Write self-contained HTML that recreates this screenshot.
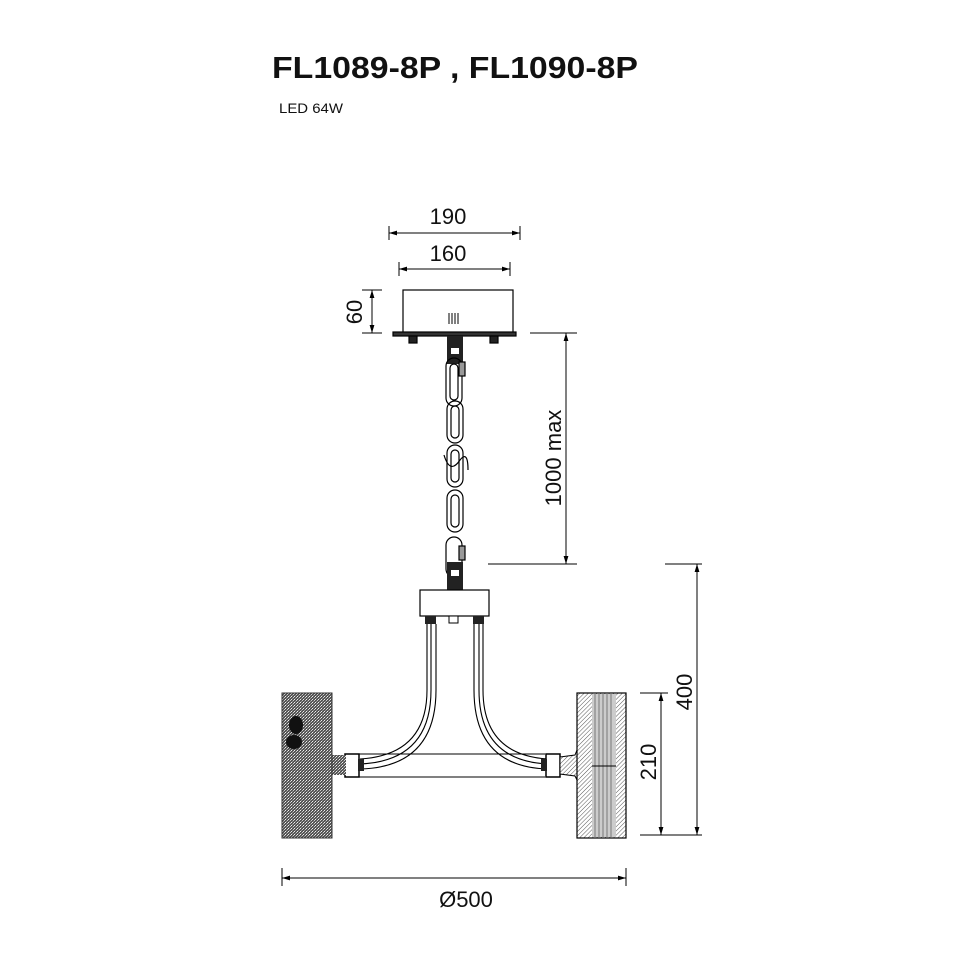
<!DOCTYPE html>
<html><head><style>
html,body{margin:0;padding:0;background:#fff;}
svg{display:block;}
text{font-family:"Liberation Sans",sans-serif;fill:#111;}
</style></head><body>
<svg width="970" height="970" viewBox="0 0 970 970" xmlns="http://www.w3.org/2000/svg">
<defs>
<marker id="a" viewBox="0 0 10 10" refX="10" refY="5" markerWidth="8" markerHeight="8" orient="auto-start-reverse"><path d="M0,2 L10,5 L0,8 z" fill="#000"/></marker>
<pattern id="mesh" width="3" height="3" patternUnits="userSpaceOnUse"><rect width="3" height="3" fill="#555"/><rect x="0" y="0" width="1" height="1" fill="#eee"/><rect x="2" y="1" width="1" height="1" fill="#ccc"/><rect x="1" y="2" width="1" height="1" fill="#999"/></pattern>
<pattern id="hatch" width="3" height="3" patternUnits="userSpaceOnUse" patternTransform="rotate(45)"><rect width="3" height="3" fill="#fff"/><line x1="0" y1="0" x2="0" y2="3" stroke="#555" stroke-width="1"/></pattern>
</defs>
<text x="272" y="78" font-size="31" font-weight="bold" textLength="366" lengthAdjust="spacingAndGlyphs">FL1089-8P , FL1090-8P</text>
<text x="279" y="113" font-size="14" textLength="64" lengthAdjust="spacingAndGlyphs">LED 64W</text>

<g stroke="#000" stroke-width="1" fill="none">
<line x1="389" y1="226" x2="389" y2="240"/><line x1="520" y1="226" x2="520" y2="240"/>
<line x1="389" y1="233" x2="520" y2="233" marker-start="url(#a)" marker-end="url(#a)"/>
<line x1="399" y1="262" x2="399" y2="276"/><line x1="510" y1="262" x2="510" y2="276"/>
<line x1="399" y1="269" x2="510" y2="269" marker-start="url(#a)" marker-end="url(#a)"/>
<line x1="362" y1="290" x2="382" y2="290"/><line x1="362" y1="333" x2="382" y2="333"/>
<line x1="372" y1="290" x2="372" y2="333" marker-start="url(#a)" marker-end="url(#a)"/>
<line x1="530" y1="333" x2="577" y2="333"/><line x1="488" y1="564" x2="577" y2="564"/>
<line x1="566" y1="333" x2="566" y2="564" marker-start="url(#a)" marker-end="url(#a)"/>
<line x1="665" y1="564" x2="702" y2="564"/>
<line x1="697" y1="564" x2="697" y2="835" marker-start="url(#a)" marker-end="url(#a)"/>
<line x1="640" y1="693" x2="668" y2="693"/><line x1="640" y1="835" x2="702" y2="835"/>
<line x1="661" y1="693" x2="661" y2="835" marker-start="url(#a)" marker-end="url(#a)"/>
<line x1="282" y1="868" x2="282" y2="886"/><line x1="626" y1="868" x2="626" y2="886"/>
<line x1="282" y1="878" x2="626" y2="878" marker-start="url(#a)" marker-end="url(#a)"/>
</g>
<text x="448" y="224" font-size="22" text-anchor="middle">190</text>
<text x="448" y="261" font-size="22" text-anchor="middle">160</text>
<text transform="translate(362,312) rotate(-90)" font-size="22" text-anchor="middle">60</text>
<text transform="translate(561,458) rotate(-90)" font-size="22" text-anchor="middle">1000  max</text>
<text transform="translate(692,692) rotate(-90)" font-size="22" text-anchor="middle">400</text>
<text transform="translate(656,762) rotate(-90)" font-size="22" text-anchor="middle">210</text>
<text x="466" y="907" font-size="22" text-anchor="middle">Ø500</text>

<g stroke="#000" stroke-width="1.2" fill="#fff">
<rect x="403" y="290" width="110" height="43"/>
<rect x="393" y="332" width="123" height="4" fill="#333"/>
<rect x="409" y="336" width="8" height="7" fill="#222"/>
<rect x="490" y="336" width="8" height="7" fill="#222"/>
</g>
<g stroke="#000" stroke-width="1"><line x1="449" y1="313" x2="449" y2="324"/><line x1="452" y1="313" x2="452" y2="324"/><line x1="455" y1="313" x2="455" y2="324"/><line x1="458" y1="313" x2="458" y2="324"/></g>
<rect x="447" y="336" width="16" height="28" fill="#222"/>
<rect x="451" y="348" width="8" height="6" fill="#fff"/>
<g stroke="#000" stroke-width="1.2" fill="none">
<rect x="446" y="358" width="16" height="48" rx="8"/>
<rect x="450" y="364" width="8" height="36" rx="4"/>
<rect x="459" y="362" width="6" height="14" fill="#999"/>
<rect x="447" y="401" width="16" height="42" rx="8"/>
<rect x="451" y="406" width="8" height="32" rx="4"/>
<rect x="447" y="445" width="16" height="42" rx="8"/>
<rect x="451" y="450" width="8" height="32" rx="4"/>
<path d="M444 455 Q450 475 460 460 Q468 450 468 470"/>
<rect x="447" y="490" width="16" height="42" rx="8"/>
<rect x="451" y="495" width="8" height="32" rx="4"/>
<rect x="446" y="537" width="16" height="40" rx="8"/>
<rect x="459" y="546" width="6" height="14" fill="#999"/>
</g>
<rect x="447" y="562" width="16" height="28" fill="#222"/>
<rect x="451" y="570" width="8" height="6" fill="#fff"/>
<rect x="420" y="590" width="69" height="26" fill="#fff" stroke="#000" stroke-width="1.2"/>
<rect x="425" y="616" width="11" height="8" fill="#222"/>
<rect x="473" y="616" width="11" height="8" fill="#222"/>
<rect x="449" y="616" width="9" height="7" fill="#fff" stroke="#000"/>
<g stroke="#000" stroke-width="1.1" fill="none">
<path d="M427 624 L427 690 Q427 755 360 759"/>
<path d="M431 624 L431 690 Q431 761 360 764"/>
<path d="M436 624 L436 690 Q436 767 360 769"/>
<path d="M474 624 L474 690 Q474 767 548 769"/>
<path d="M479 624 L479 690 Q479 761 548 764"/>
<path d="M483 624 L483 690 Q483 755 548 759"/>
<line x1="358" y1="754" x2="545" y2="754"/>
<line x1="358" y1="777" x2="545" y2="777"/>
</g>
<g stroke="#000" stroke-width="1.5" fill="#fff">
<rect x="345" y="754" width="14" height="23"/>
<rect x="546" y="754" width="14" height="23"/>
</g>
<rect x="358" y="759" width="6" height="12" fill="#222"/>
<rect x="541" y="759" width="6" height="12" fill="#222"/>
<rect x="332" y="755" width="14" height="20" fill="url(#mesh)"/>
<rect x="282" y="693" width="50" height="145" fill="url(#mesh)" stroke="#333"/>
<ellipse cx="296" cy="725" rx="7" ry="9" fill="#111"/>
<ellipse cx="294" cy="742" rx="8" ry="7" fill="#111"/>
<path d="M560 757 L575 755 L577 750 L577 780 L575 776 L560 774 z" fill="url(#hatch)" stroke="#000"/>
<rect x="577" y="693" width="49" height="145" fill="url(#hatch)" stroke="#000" stroke-width="1.2"/>
<rect x="592" y="694" width="24" height="143" fill="#ccc"/>
<g stroke="#777" stroke-width="1"><line x1="595" y1="694" x2="595" y2="837"/><line x1="599" y1="694" x2="599" y2="837"/><line x1="603" y1="694" x2="603" y2="837"/><line x1="607" y1="694" x2="607" y2="837"/><line x1="611" y1="694" x2="611" y2="837"/></g>
<line x1="592" y1="766" x2="616" y2="766" stroke="#000"/>
</svg>
</body></html>
